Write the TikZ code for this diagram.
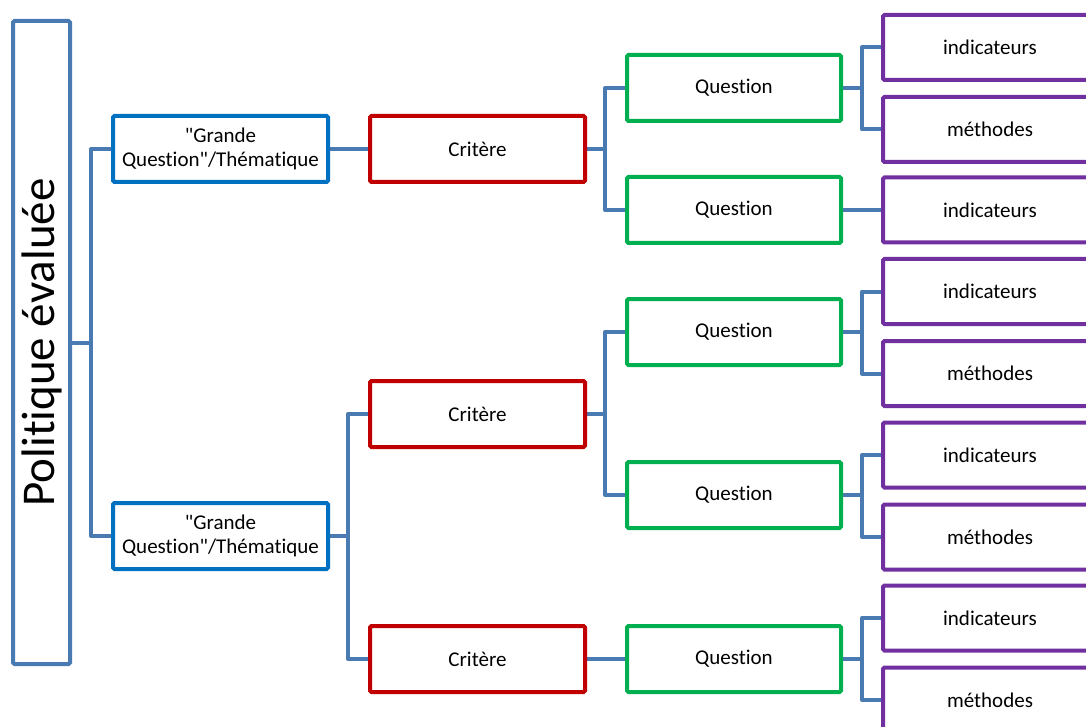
\documentclass[tikz,border=0pt]{standalone}
\usepackage{fontspec}
\setmainfont{Carlito}[Ligatures={NoCommon,TeXOff}]
\usetikzlibrary{backgrounds}

\definecolor{linkblue}{RGB}{74,122,178}
\definecolor{themeblue}{HTML}{0070C0}
\definecolor{critred}{HTML}{C00000}
\definecolor{questgreen}{HTML}{00B050}
\definecolor{leafpurple}{HTML}{7030A0}

\begin{document}
\begin{tikzpicture}[x=1pt,y=-1pt,
  box/.style={draw, line width=4pt, fill=white, rounded corners=1.5pt,
    inner sep=0pt, outer sep=0pt, align=center, text=black,
    font=\fontsize{21}{24}\selectfont},
  root/.style={box, draw=linkblue, minimum width=57, minimum height=643},
  theme/.style={box, draw=themeblue, minimum width=215, minimum height=66},
  crit/.style={box, draw=critred, minimum width=215, minimum height=66},
  quest/.style={box, draw=questgreen, minimum width=214, minimum height=66},
  leaf/.style={box, draw=leafpurple, minimum width=214, minimum height=65},
  conn/.style={draw=linkblue, line width=4pt, line join=round}
]
\useasboundingbox (0,0) rectangle (1086,727);
\clip (0,0) rectangle (1086,727);

% root
\node[root] (root) at (41.5,342.5) {};
\node[rotate=90, font=\fontsize{47}{50}\selectfont] (roottxt) at (41.5,342.5) {Politique évaluée};

% themes
\node[theme] (t1) at (220.5,149) {"Grande\\Question"/Thématique};
\node[theme] (t2) at (220.5,536) {"Grande\\Question"/Thématique};

% criteria
\node[crit] (c1) at (477.5,149) {Critère};
\node[crit] (c2) at (477.5,414) {Critère};
\node[crit] (c3) at (477.5,659) {Critère};

% questions
\node[quest] (q1) at (734,88) {Question};
\node[quest] (q2) at (734,210) {Question};
\node[quest] (q3) at (734,332) {Question};
\node[quest] (q4) at (734,495) {Question};
\node[quest] (q5) at (734,659) {Question};

% indicators and methods
\node[leaf] (p1) at (990,47.5) {indicateurs};
\node[leaf] (p2) at (990,129.5) {méthodes};
\node[leaf] (p3) at (990,210) {indicateurs};
\node[leaf] (p4) at (990,291.5) {indicateurs};
\node[leaf] (p5) at (990,373.5) {méthodes};
\node[leaf] (p6) at (990,455) {indicateurs};
\node[leaf] (p7) at (990,537) {méthodes};
\node[leaf] (p8) at (990,618) {indicateurs};
\node[leaf] (p9) at (990,700) {méthodes};

% elbow connectors, kept behind the boxes
\begin{scope}[on background layer]
\draw[conn] (root.east) -- ++(21,0) |- (t1.west);
\draw[conn] (root.east) -- ++(21,0) |- (t2.west);

\draw[conn] (t1.east) -- (c1.west);
\draw[conn] (t2.east) -- ++(20,0) |- (c2.west);
\draw[conn] (t2.east) -- ++(20,0) |- (c3.west);

\draw[conn] (c1.east) -- ++(20,0) |- (q1.west);
\draw[conn] (c1.east) -- ++(20,0) |- (q2.west);
\draw[conn] (c2.east) -- ++(20,0) |- (q3.west);
\draw[conn] (c2.east) -- ++(20,0) |- (q4.west);
\draw[conn] (c3.east) -- (q5.west);

\draw[conn] (q1.east) -- ++(21,0) |- (p1.west);
\draw[conn] (q1.east) -- ++(21,0) |- (p2.west);
\draw[conn] (q2.east) -- (p3.west);
\draw[conn] (q3.east) -- ++(21,0) |- (p4.west);
\draw[conn] (q3.east) -- ++(21,0) |- (p5.west);
\draw[conn] (q4.east) -- ++(21,0) |- (p6.west);
\draw[conn] (q4.east) -- ++(21,0) |- (p7.west);
\draw[conn] (q5.east) -- ++(21,0) |- (p8.west);
\draw[conn] (q5.east) -- ++(21,0) |- (p9.west);
\end{scope}
\end{tikzpicture}
\end{document}
